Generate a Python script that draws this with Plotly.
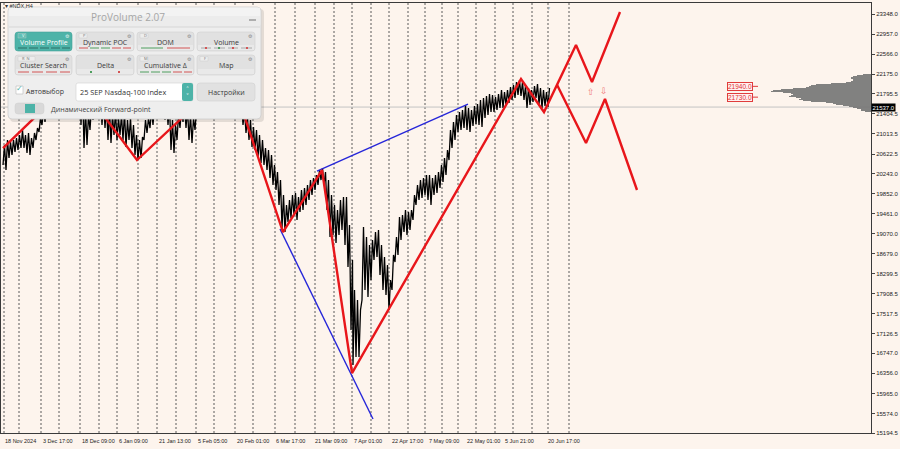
import plotly.graph_objects as go

# ---------------- data ----------------
# bar index (1 bar unit per screen column group), H4 price highs / lows
bar_idx = [0, 3, 6, 9, 12, 15, 18, 21, 24, 27, 30, 33, 36, 39, 42, 45, 48, 51, 54, 57,
           60, 63, 66, 69, 72, 75, 78, 81, 84, 87, 90, 93, 96, 99, 102, 105, 108, 111, 114, 117,
           120, 123, 126, 129, 132, 135, 138, 141, 144, 147, 150, 153, 156, 159, 162, 165, 168, 171, 174, 177,
           180, 183, 186, 189, 192, 195, 198, 201, 204, 207, 210, 213, 216, 219, 222, 225, 228, 231, 234, 237,
           240, 243, 246, 249, 252, 255, 258, 261, 264, 267, 270, 273, 276, 279, 282, 285, 288, 291, 294, 297,
           300, 303, 306, 309, 312, 315, 318, 321, 324, 327, 330, 333, 336, 339, 342, 345, 348,
           350,
           353, 356, 359, 362, 365, 368, 371, 374, 377, 380, 383, 386, 389, 392, 395, 398, 401, 404, 407, 410,
           413, 416, 419, 422, 425, 428, 431, 434, 437, 440, 443, 446, 449, 452, 455, 458, 461, 464, 467, 470,
           473, 476, 479, 482, 485, 488, 491, 494, 497, 500, 503, 506, 509, 512, 515, 518, 521, 524, 527, 530,
           533, 536, 539, 542, 545]

bar_high = [20798, 20896, 20857, 20896, 20935, 20993, 21090, 20993, 21032, 20935,
            21032, 21129, 21324, 21479, 21518, 21674, 21771, 21830, 21908, 21966,
            22063, 22102, 22161, 22219, 22258, 22219, 21966, 21479, 21382, 21577,
            21713, 21771, 21771, 21674, 21577, 21479, 21382, 21440, 21324, 21382,
            21440, 21285, 21324, 21188, 20993, 20896, 20954, 21285, 21324, 21479,
            21577, 21674, 21713, 21771, 21674, 21577, 21285, 21188, 21382, 21518,
            21577, 21518, 21382, 21324, 21479, 21674, 21771, 21830, 21869, 21908,
            21966, 22024, 22063, 22102, 22161, 22219, 22180, 22063, 21869, 21674,
            21479, 21324, 21285, 21149, 21090, 20993, 20896, 20740, 20701, 20604,
            20409, 20273, 20117, 19825, 19631, 19728, 19825, 19864, 19786, 19923,
            19962, 20020, 20117, 20156, 20214, 20312, 20351, 20273, 20117, 19825,
            19631, 19534, 19728, 19786, 19786, 19242, 18561,
            17977,
            17782, 17588, 19203, 19008, 18853, 18950, 19105, 19144, 18853, 18619,
            18463, 18171, 18658, 19008, 19397, 19436, 19534, 19495, 19534, 19825,
            20020, 20117, 20156, 20214, 20214, 20156, 20214, 20273, 20409, 20545,
            20701, 21090, 21246, 21382, 21440, 21479, 21577, 21518, 21479, 21557,
            21596, 21674, 21713, 21752, 21791, 21771, 21733, 21791, 21869, 21830,
            21869, 21927, 21966, 22024, 22063, 22024, 21947, 21908, 21869, 21947,
            21986, 21908, 21869, 21830, 21908]

bar_low = [20409, 20312, 20545, 20604, 20662, 20701, 20740, 20740, 20643, 20604,
           20740, 20896, 21051, 21188, 21246, 21382, 21479, 21577, 21635, 21713,
           21771, 21830, 21908, 21947, 21986, 21869, 21188, 20740, 20798, 21090,
           21285, 21382, 21324, 21188, 21129, 20896, 20837, 20993, 20896, 20993,
           20896, 20759, 20896, 20740, 20604, 20506, 20545, 20896, 21032, 21129,
           21188, 21324, 21382, 21440, 21285, 21188, 20701, 20643, 20896, 21129,
           21246, 21129, 20896, 20837, 21090, 21324, 21440, 21518, 21577, 21635,
           21674, 21713, 21752, 21810, 21869, 21908, 21869, 21713, 21518, 21324,
           21188, 21032, 20896, 20759, 20701, 20545, 20448, 20409, 20312, 20156,
           20020, 19923, 19631, 19183, 19105, 19300, 19378, 19436, 19339, 19495,
           19534, 19631, 19728, 19825, 19923, 20020, 20117, 20020, 19534, 19008,
           19047, 18892, 19047, 19144, 18853, 18424, 17198,
           16517,
           16673, 16673, 17782, 17977, 17841, 18171, 18561, 18619, 18269, 17977,
           17880, 17588, 17977, 18522, 18658, 18950, 19105, 19047, 19144, 19339,
           19631, 19728, 19767, 19825, 19728, 19631, 19825, 19864, 19962, 20078,
           20214, 20506, 20740, 20896, 21051, 21090, 21129, 21090, 21051, 21168,
           21207, 21188, 21149, 21324, 21382, 21440, 21440, 21479, 21518, 21518,
           21577, 21616, 21674, 21713, 21771, 21752, 21674, 21518, 21577, 21635,
           21713, 21596, 21518, 21557, 21537]

# zigzag indicator (red) and forecast branches
red_idx = [0, 72.5, 134, 227, 280, 319, 349, 518, 541, 573, 589, 617]
red_price = [20740, 22102, 20506, 22200, 19105, 20312, 16361, 22083, 21440, 22745, 22024, 23387]
red2_idx = [554, 583, 602, 634]
red2_price = [21970, 20837, 21694, 19923]

# blue trend lines
blue_low_idx = [277, 370]
blue_low_price = [19164, 15466]
blue_up_idx = [314, 465]
blue_up_price = [20292, 21596]

# volume profile (price levels and volume)
profile_levels = [22180, 22160, 22140, 22120, 22100, 22080, 22060, 22040, 22020, 22000,
                  21980, 21960, 21940, 21920, 21900, 21880, 21860, 21840, 21820, 21800,
                  21780, 21760, 21740, 21720, 21700, 21680, 21660, 21640, 21620, 21600,
                  21580, 21560, 21540, 21520, 21500, 21480, 21460]
profile_volume = [8, 14, 18, 20, 20, 18, 18, 20, 25, 40,
                  55, 60, 62, 65, 78, 90, 98, 100, 88, 80,
                  78, 80, 82, 75, 70, 72, 68, 60, 45, 38,
                  35, 28, 22, 18, 14, 10, 6]

level_labels = [21940.0, 21730.0]
current_price = 21537.0

y_ticks = [23348.0, 22957.0, 22566.0, 22175.0, 21795.5, 21404.5, 21013.5, 20622.5,
           20243.0, 19852.0, 19461.0, 19070.0, 18679.0, 18299.5, 17908.5, 17517.5,
           17126.5, 16747.0, 16356.0, 15965.0, 15574.0, 15194.5]

date_labels = ["18 Nov 2024", "3 Dec 17:00", "18 Dec 09:00", "6 Jan 09:00", "21 Jan 13:00",
               "5 Feb 05:00", "20 Feb 01:00", "6 Mar 17:00", "21 Mar 09:00", "7 Apr 01:00",
               "22 Apr 17:00", "7 May 09:00", "22 May 01:00", "5 Jun 21:00", "20 Jun 17:00"]
date_idx = [0, 38, 77, 114, 154, 193, 232, 271, 310, 349, 387, 424, 462, 500, 543]
grid_idx = [1, 16, 38, 56, 77, 96, 114, 135, 154, 173, 193, 211, 232, 250, 272, 292,
            312, 331, 349, 368, 386, 405, 422, 439, 455, 473, 492, 510, 529, 545, 566]

# ---------------- layout geometry ----------------
W, H = 900, 449
ML, MR, MT, MB = 1, 29, 3, 16
PW, PH = W - ML - MR, H - MT - MB
X_RANGE = [-2, -2 + PW]
Y_RANGE = [15194.5, 23562.0]
BG = "#FDF4ED"
RED = "#E8161B"
BLUE = "#2626D9"
TEAL = "#4DB3A8"


def fx(px):
    return (px - ML) / PW


def fy(py):
    return (H - MB - py) / PH


fig = go.Figure()

# price (dense H4 bars drawn as a jagged line)
xs, ys = [], []
for i, h, l in zip(bar_idx, bar_high, bar_low):
    xs += [i, i + 1.5]
    ys += [l, h]
fig.add_trace(go.Scatter(x=xs, y=ys, mode="lines", line=dict(color="#000000", width=1.3),
                         hoverinfo="skip"))

# volume profile from the right edge
fig.add_trace(go.Bar(x=profile_volume, y=profile_levels, orientation="h", xaxis="x2", yaxis="y",
                     width=20, marker=dict(color="rgba(118,118,118,0.92)", line=dict(width=0)),
                     hoverinfo="skip"))

# blue lines
fig.add_trace(go.Scatter(x=blue_low_idx, y=blue_low_price, mode="lines",
                         line=dict(color=BLUE, width=1.4), hoverinfo="skip"))
fig.add_trace(go.Scatter(x=blue_up_idx, y=blue_up_price, mode="lines",
                         line=dict(color=BLUE, width=1.4), hoverinfo="skip"))
# red zigzag + forecast
fig.add_trace(go.Scatter(x=red_idx, y=red_price, mode="lines",
                         line=dict(color=RED, width=2.4), hoverinfo="skip"))
fig.add_trace(go.Scatter(x=red2_idx, y=red2_price, mode="lines",
                         line=dict(color=RED, width=2.4), hoverinfo="skip"))

shapes = []
annotations = []

# vertical dotted grid
for g in grid_idx:
    shapes.append(dict(type="line", xref="x", yref="paper", x0=g, x1=g, y0=0, y1=1,
                       line=dict(color="#5A5A5A", width=1, dash="2px,2px"), layer="below"))
# bid line
shapes.append(dict(type="line", xref="paper", yref="y", x0=0, x1=1, y0=current_price, y1=current_price,
                   line=dict(color="#C4C4C4", width=1), layer="below"))

# level labels with short red leaders
for lv in level_labels:
    shapes.append(dict(type="line", xref="x", yref="y", x0=750, x1=755, y0=lv, y1=lv,
                       line=dict(color="#E03C3C", width=1)))
    annotations.append(dict(x=750, y=lv, xref="x", yref="y", text=f"{lv:.1f}", showarrow=False,
                            xanchor="right", yanchor="middle",
                            font=dict(size=6.5, color="#E03030", family="Liberation Sans"),
                            bgcolor="#FFF0F0", bordercolor="#E03C3C", borderwidth=1, borderpad=0))

# forecast arrows
annotations.append(dict(x=588, y=21830, xref="x", yref="y", text="⇧", showarrow=False,
                        font=dict(size=9, color="#F07878", family="DejaVu Sans")))
annotations.append(dict(x=601, y=21850, xref="x", yref="y", text="⇩", showarrow=False,
                        font=dict(size=9, color="#F07878", family="DejaVu Sans")))

# current price tag
annotations.append(dict(x=1, y=current_price, xref="paper", yref="y", text=f"{current_price:.1f}",
                        showarrow=False, xanchor="left", yanchor="middle",
                        font=dict(size=6, color="#FFFFFF", family="Liberation Sans"),
                        bgcolor="#000000", borderpad=0.5))
# last-bar marker and symbol
annotations.append(dict(x=545, y=fy(3), xref="x", yref="paper", text="▼", showarrow=False,
                        yanchor="top", font=dict(size=5, color="#A0A0A0")))
annotations.append(dict(x=fx(3), y=fy(6), xref="paper", yref="paper", text="▾ #NDX,H4", showarrow=False,
                        xanchor="left", yanchor="middle",
                        font=dict(size=5.5, color="#333333", family="Liberation Sans")))

# date labels, left-aligned on their grid line like the terminal does
for d, lab in zip(date_idx, date_labels):
    annotations.append(dict(x=d, y=fy(436), xref="x", yref="paper", text=lab, showarrow=False,
                            xanchor="left", yanchor="top",
                            font=dict(size=5.5, color="#222222", family="Liberation Sans")))


# ---------------- ProVolume panel ----------------
def rrect(x0, y0, x1, y1, r, fill, line=None, lw=0.8):
    X0, X1, Y0, Y1 = fx(x0), fx(x1), fy(y0), fy(y1)
    rx, ry = r / PW, r / PH
    path = (f"M {X0+rx},{Y0} L {X1-rx},{Y0} Q {X1},{Y0} {X1},{Y0-ry} "
            f"L {X1},{Y1+ry} Q {X1},{Y1} {X1-rx},{Y1} "
            f"L {X0+rx},{Y1} Q {X0},{Y1} {X0},{Y1+ry} "
            f"L {X0},{Y0-ry} Q {X0},{Y0} {X0+rx},{Y0} Z")
    return dict(type="path", xref="paper", yref="paper", path=path, fillcolor=fill,
                line=dict(color=line if line else fill, width=lw if line else 0), layer="above")


def rect(x0, y0, x1, y1, fill, line=None, lw=0.8):
    return dict(type="rect", xref="paper", yref="paper", x0=fx(x0), x1=fx(x1), y0=fy(y1), y1=fy(y0),
                fillcolor=fill, line=dict(color=line if line else fill, width=lw if line else 0),
                layer="above")


def seg(x0, y0, x1, y1, color, w=1.0):
    return dict(type="line", xref="paper", yref="paper", x0=fx(x0), x1=fx(x1), y0=fy(y0), y1=fy(y1),
                line=dict(color=color, width=w), layer="above")


def txt(x, y, s, size=7, color="#333333", xanchor="left", family="Open Sans"):
    return dict(x=fx(x), y=fy(y), xref="paper", yref="paper", text=s, showarrow=False,
                xanchor=xanchor, yanchor="middle", font=dict(size=size, color=color, family=family))


# shadow + body
shapes.append(rrect(10, 9, 264, 122, 4, "rgba(0,0,0,0.10)"))
shapes.append(rrect(8, 7, 261, 119, 4, "#EEEEEE", "#CDCDCD", 0.8))
shapes.append(rrect(8.5, 7.5, 260.5, 27, 3.5, "#ECECEC"))
shapes.append(rect(9, 7.8, 260, 16, "#F3F3F3"))
shapes.append(seg(9, 27, 260, 27, "#D6D6D6", 1))
annotations.append(txt(128, 17, "ProVolume 2.07", size=10, color="#A6A6A6", xanchor="center"))
shapes.append(seg(249, 20, 256, 20, "#9A9A9A", 1.5))

buttons = [
    ("Volume Profile", 15, 72, 32, 51, True, "V"),
    ("Dynamic POC", 76, 134, 32, 51, False, "P"),
    ("DOM", 137, 194, 32, 51, False, "D"),
    ("Volume", 197, 255, 32, 51, False, ""),
    ("Cluster Search", 15, 72, 55, 75, False, "R  N"),
    ("Delta", 76, 134, 55, 75, False, ""),
    ("Cumulative Δ", 137, 194, 55, 75, False, "M"),
    ("Map", 197, 255, 55, 75, False, "F"),
]
for label, x0, x1, y0, y1, active, tab in buttons:
    if active:
        shapes.append(rrect(x0, y0, x1, y1, 3, TEAL, "#45A398", 0.6))
    else:
        shapes.append(rrect(x0, y0, x1, y1, 3, "#E1E1E1", "#D0D0D0", 0.6))
        shapes.append(rect(x0 + 1, y1 - 6, x1 - 1, y1 - 1, "#E9E9E9"))
    if tab:
        tw = 5 + 3 * len(tab)
        shapes.append(rect(x0 + 3, y0 + 1.5, x0 + 3 + tw, y0 + 6,
                           "#5FC0B5" if active else "#EDEDED", "#C8C8C8", 0.4))
        annotations.append(txt(x0 + 5, y0 + 3.8, tab, size=4, color="#FFFFFF" if active else "#777777"))
    annotations.append(txt(x1 - 5, y0 + 3.5, "⚙", size=5, color="#E0F2F0" if active else "#888888",
                           xanchor="center", family="DejaVu Sans"))
    annotations.append(txt((x0 + x1) / 2, y0 + 10.5, label, size=7,
                           color="#FFFFFF" if active else "#3A3A3A", xanchor="center"))

GR, RD, DK, GY = "#4E9E5E", "#D35454", "#2F6F67", "#A8A8A8"
dash_rows = [
    (48, [(18, 27, DK), (29, 38, DK), (40, 49, DK), (51, 60, DK), (62, 70, DK)]),
    (48, [(79, 88, RD), (90, 99, GR), (101, 110, GR), (112, 121, RD), (123, 131, RD)]),
    (48, [(141, 163, GR), (167, 190, RD)]),
    (48, [(201, 211, GY), (214, 225, GY), (228, 238, GY), (241, 252, GY)]),
    (72, [(18, 29, RD), (32, 43, RD), (46, 57, RD), (60, 70, RD)]),
    (72, [(140, 149, GR), (151, 160, GR), (162, 171, GR), (173, 182, RD), (184, 192, RD)]),
]
for yy, ds in dash_rows:
    for a, b, c in ds:
        shapes.append(seg(a, yy, b, yy, c, 1))
for xd, c in [(206, RD), (219, GR), (233, RD), (247, RD)]:
    shapes.append(seg(xd - 1, 48, xd + 1, 48, c, 2))
for xd, c in [(91, GR), (119, RD)]:
    shapes.append(seg(xd - 1, 72, xd + 1, 72, c, 2))

# row 3
shapes.append(rect(16, 86, 23, 94, "#FFFFFF", "#B8B8B8", 0.6))
annotations.append(txt(19.5, 89, "✓", size=8, color=TEAL, xanchor="center", family="DejaVu Sans"))
annotations.append(txt(24, 91, "Автовыбор", size=7, color="#3A3A3A"))
shapes.append(rrect(76, 83, 193, 101, 2, "#FFFFFF", "#D0D0D0", 0.6))
shapes.append(rrect(182, 83, 193, 101, 2, TEAL))
annotations.append(txt(187.5, 89, "˄", size=6, color="#FFFFFF", xanchor="center", family="DejaVu Sans"))
annotations.append(txt(187.5, 95.5, "˅", size=6, color="#FFFFFF", xanchor="center", family="DejaVu Sans"))
annotations.append(txt(78, 92, "25 SEP Nasdaq-100 Index", size=7.3, color="#333333"))
shapes.append(rrect(197, 83, 255, 101, 3, "#E1E1E1", "#D0D0D0", 0.6))
annotations.append(txt(226, 92, "Настройки", size=7, color="#3A3A3A", xanchor="center"))
# row 4
shapes.append(rrect(15, 103, 44, 114, 3, "#D9D9D9", "#CFCFCF", 0.5))
shapes.append(rect(25, 104, 35, 113, TEAL))
annotations.append(txt(49, 109, "Динамический Forward-point", size=7, color="#444444"))

fig.update_layout(
    width=W, height=H,
    margin=dict(l=ML, r=MR, t=MT, b=MB, pad=0),
    paper_bgcolor=BG, plot_bgcolor=BG,
    showlegend=False, bargap=0,
    xaxis=dict(range=X_RANGE, showgrid=False, zeroline=False, showline=True, mirror=True,
               linecolor="#3A3A3A", linewidth=1, showticklabels=False, ticks="", fixedrange=True),
    xaxis2=dict(range=[PW, 0], overlaying="x", anchor="y", visible=False, fixedrange=True),
    yaxis=dict(range=Y_RANGE, side="right", showgrid=False, zeroline=False, showline=True, mirror=True,
               linecolor="#3A3A3A", linewidth=1, tickvals=y_ticks,
               ticktext=[f"{v:.1f}" for v in y_ticks], ticks="outside", ticklen=3, tickcolor="#444444",
               tickfont=dict(size=6, color="#222222", family="Liberation Sans"), fixedrange=True),
    shapes=shapes,
    annotations=annotations,
)

fig.write_html("out.html", config={"displayModeBar": False},
               post_script="document.body.style.margin='0';document.body.style.overflow='hidden';")
